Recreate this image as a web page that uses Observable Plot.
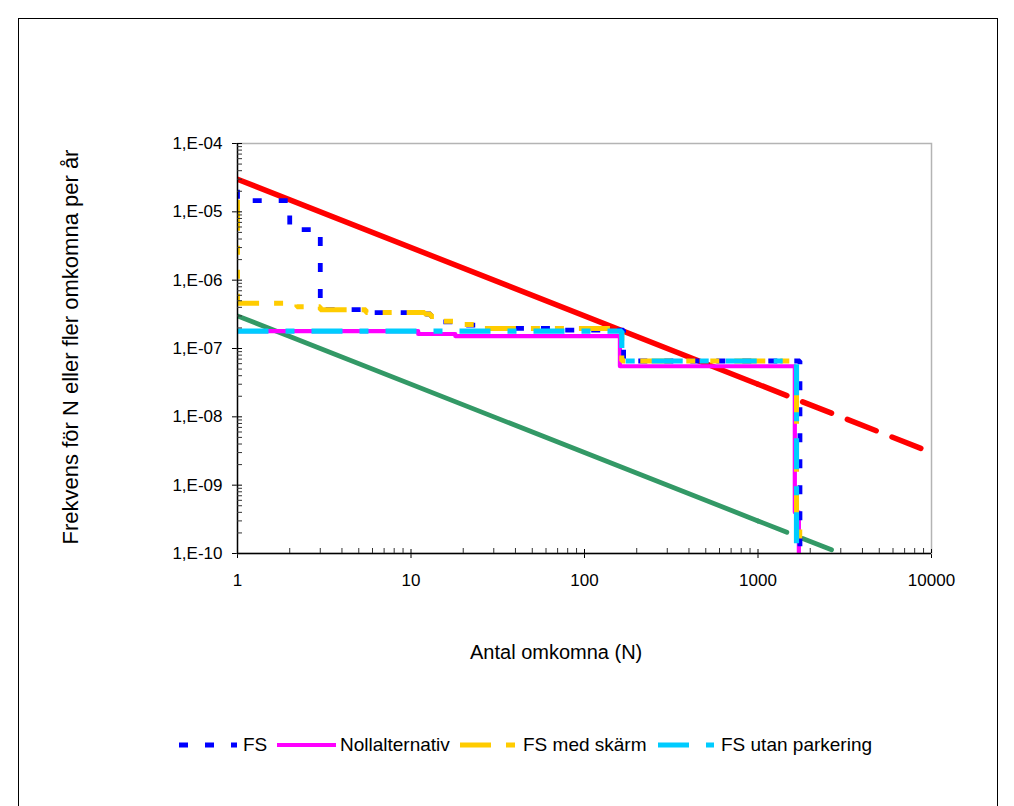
<!DOCTYPE html>
<html>
<head>
<meta charset="utf-8">
<script src="https://cdn.jsdelivr.net/npm/d3@7"></script>
<script src="https://cdn.jsdelivr.net/npm/@observablehq/plot@0.6"></script>
<style>
  body { margin: 0; background: #fff; font-family: "Liberation Sans", Arial, sans-serif; color: #000; }
  #page { position: relative; width: 1014px; height: 806px; overflow: hidden; }
  #border { position: absolute; left: 18px; top: 18px; width: 980px; height: 820px; border: 1px solid #000; box-sizing: border-box; }
  #chart { position: absolute; left: 0; top: 0; }
  #ytitle { position: absolute; left: 71px; top: 347px; transform: translate(-50%, -50%) rotate(-90deg); white-space: nowrap; font-size: 22px; }
  #xtitle { position: absolute; left: 470px; top: 640px; white-space: nowrap; font-size: 20px; line-height: 24px; }
  #legend { position: absolute; left: 0; top: 733px; width: 1014px; height: 24px; }
  #legend .lab { position: absolute; top: 0; line-height: 24px; font-size: 19px; white-space: nowrap; }
  #legend svg { position: absolute; top: 0; }
</style>
</head>
<body>
<div id="page">
  <div id="border"></div>
  <div id="chart"></div>
  <div id="ytitle">Frekvens för N eller fler omkomna per år</div>
  <div id="xtitle">Antal omkomna (N)</div>
  <div id="legend"></div>
</div>
<script>
// ---------- data ----------
const xTicks = [1, 10, 100, 1000, 10000];
const xTickLabels = ["1", "10", "100", "1000", "10000"];
const yTicks = [1e-10, 1e-9, 1e-8, 1e-7, 1e-6, 1e-5, 1e-4];
const yTickLabels = ["1,E-10", "1,E-09", "1,E-08", "1,E-07", "1,E-06", "1,E-05", "1,E-04"];

const seriesNames = ["FS", "Nollalternativ", "FS med skärm", "FS utan parkering"];

// FS (blue)
const fsN = [1, 1, 2, 2, 3, 3, 5.5, 5.5, 12, 12, 13, 13, 14, 14, 19, 19, 24, 24, 70, 70, 168, 168, 1745, 1745];
const fsF = [2.1e-5, 1.46e-5, 1.46e-5, 5.5e-6, 5.5e-6, 3.7e-7, 3.7e-7, 3.35e-7, 3.35e-7, 3.2e-7, 3.2e-7, 2.95e-7, 2.95e-7, 2.45e-7, 2.45e-7, 2.2e-7, 2.2e-7, 1.97e-7, 1.97e-7, 1.86e-7, 1.86e-7, 6.56e-8, 6.56e-8, 1e-10];

// Nollalternativ (magenta)
const noN = [1, 11, 11, 18, 18, 160, 160, 1630, 1630, 1720, 1720];
const noF = [1.8e-7, 1.8e-7, 1.63e-7, 1.63e-7, 1.52e-7, 1.52e-7, 5.5e-8, 5.5e-8, 4e-10, 4e-10, 1e-10];

// FS med skärm (yellow)
const skN = [1, 1, 2.2, 2.2, 3, 3, 5.5, 5.5, 12, 12, 13, 13, 14, 14, 18, 18, 23, 23, 164, 164, 1667, 1667, 1740, 1740];
const skF = [1.5e-5, 4.6e-7, 4.6e-7, 4.1e-7, 4.1e-7, 3.7e-7, 3.7e-7, 3.35e-7, 3.35e-7, 3.2e-7, 3.2e-7, 2.95e-7, 2.95e-7, 2.5e-7, 2.5e-7, 2.24e-7, 2.24e-7, 1.97e-7, 1.97e-7, 6.56e-8, 6.56e-8, 3.3e-10, 3.3e-10, 1e-10];

// FS utan parkering (cyan)
const upN = [1, 164, 164, 1667, 1667];
const upF = [1.79e-7, 1.79e-7, 6.56e-8, 6.56e-8, 1.3e-10];

// Criterion lines
const upperSolidN = [1, 1000];
const upperSolidF = [3e-5, 3e-8];
const upperDashN = [1000, 10000];
const upperDashF = [3e-8, 3e-9];
const lowerSolidN = [1, 1000];
const lowerSolidF = [3e-7, 3e-10];
const lowerDashN = [1000, 3000];
const lowerDashF = [3e-10, 1e-10];

// ---------- helpers ----------
const pts = (N, F) => N.map((n, i) => ({N: n, F: F[i]}));
const minorOf = (majors) => majors.slice(0, -1).flatMap(d => d3.range(2, 10).map(k => d * k));
const xMinor = minorOf(xTicks);
const yMinor = minorOf(yTicks);

const W = 1014, H = 620;
const mL = 237, mR = 83, mT = 143, mB = 67;
const plotW = W - mL - mR, plotH = H - mT - mB;

const styles = {
  "FS": {stroke: "#0000ff", strokeWidth: 4.8, dash: "9,17"},
  "Nollalternativ": {stroke: "#ff00ff", strokeWidth: 4.2, dash: null},
  "FS med skärm": {stroke: "#ffcc00", strokeWidth: 5, dash: "31,15,9,15,9,15"},
  "FS utan parkering": {stroke: "#00ccff", strokeWidth: 5.2, dash: "31,17,9,17"}
};

const lineOpts = (name) => ({
  x: "N", y: "F", clip: true,
  stroke: styles[name].stroke, strokeWidth: styles[name].strokeWidth,
  strokeDasharray: styles[name].dash || undefined,
  strokeLinejoin: name === "Nollalternativ" ? "round" : "miter",
  strokeLinecap: "butt"
});

const chart = Plot.plot({
  width: W, height: H,
  marginLeft: mL, marginRight: mR, marginTop: mT, marginBottom: mB,
  style: {fontFamily: "'Liberation Sans', Arial, sans-serif", fontSize: "17px", color: "#000", background: "transparent", overflow: "visible"},
  x: {type: "log", domain: [1, 10000], ticks: xTicks, tickFormat: d => xTickLabels[xTicks.indexOf(d)], tickSize: 5, tickPadding: 15, label: null},
  y: {type: "log", domain: [1e-10, 1e-4], ticks: yTicks, tickFormat: d => yTickLabels[yTicks.indexOf(d)], tickSize: 5, tickPadding: 10, label: null},
  marks: [
    Plot.frame({stroke: "#b4b4b4", strokeWidth: 1.5}),
    // criterion lines
    Plot.line(pts(upperSolidN, upperSolidF), {x: "N", y: "F", stroke: "#ff0000", strokeWidth: 5.5, clip: true}),
    Plot.line(pts(upperDashN, upperDashF), {x: "N", y: "F", stroke: "#ff0000", strokeWidth: 5.5, strokeDasharray: "31,17", clip: true}),
    Plot.line(pts(lowerSolidN, lowerSolidF), {x: "N", y: "F", stroke: "#339966", strokeWidth: 4.8, clip: true}),
    Plot.line(pts(lowerDashN, lowerDashF), {x: "N", y: "F", stroke: "#339966", strokeWidth: 4.8, strokeDasharray: "31,17", clip: true}),
    // series
    Plot.line(pts(noN, noF), lineOpts("Nollalternativ")),
    Plot.line(pts(fsN, fsF), lineOpts("FS")),
    Plot.line(pts(skN, skF), lineOpts("FS med skärm")),
    Plot.line(pts(upN, upF), lineOpts("FS utan parkering")),
    // axis lines
    Plot.ruleX([1], {stroke: "#000", strokeWidth: 1.4}),
    Plot.ruleY([1e-10], {stroke: "#000", strokeWidth: 1.4}),
    // inward tick parts
    Plot.tickX(xTicks, {x: d => d, insetTop: plotH - 4, stroke: "#000"}),
    Plot.tickX(xMinor, {x: d => d, insetTop: plotH - 5, stroke: "#333"}),
    Plot.tickY(yTicks, {y: d => d, insetRight: plotW - 5, stroke: "#000"}),
    Plot.tickY(yMinor, {y: d => d, insetRight: plotW - 5, stroke: "#333"})
  ]
});
document.getElementById("chart").appendChild(chart);

// ---------- legend ----------
const legend = document.getElementById("legend");
const legendLayout = [
  {name: "FS", sx: 179, sw: 58, tx: 243},
  {name: "Nollalternativ", sx: 277, sw: 59, tx: 340},
  {name: "FS med skärm", sx: 460, sw: 57, tx: 523},
  {name: "FS utan parkering", sx: 658, sw: 56, tx: 721}
];
const ns = "http://www.w3.org/2000/svg";
legendLayout.forEach(item => {
  const st = styles[item.name];
  const svg = document.createElementNS(ns, "svg");
  svg.setAttribute("width", item.sw);
  svg.setAttribute("height", 24);
  svg.style.left = item.sx + "px";
  const ln = document.createElementNS(ns, "line");
  ln.setAttribute("x1", 0); ln.setAttribute("x2", item.sw);
  ln.setAttribute("y1", 12); ln.setAttribute("y2", 12);
  ln.setAttribute("stroke", st.stroke);
  ln.setAttribute("stroke-width", st.strokeWidth);
  if (st.dash) ln.setAttribute("stroke-dasharray", st.dash);
  svg.appendChild(ln);
  legend.appendChild(svg);
  const lab = document.createElement("div");
  lab.className = "lab";
  lab.style.left = item.tx + "px";
  lab.textContent = item.name;
  legend.appendChild(lab);
});
</script>
</body>
</html>
